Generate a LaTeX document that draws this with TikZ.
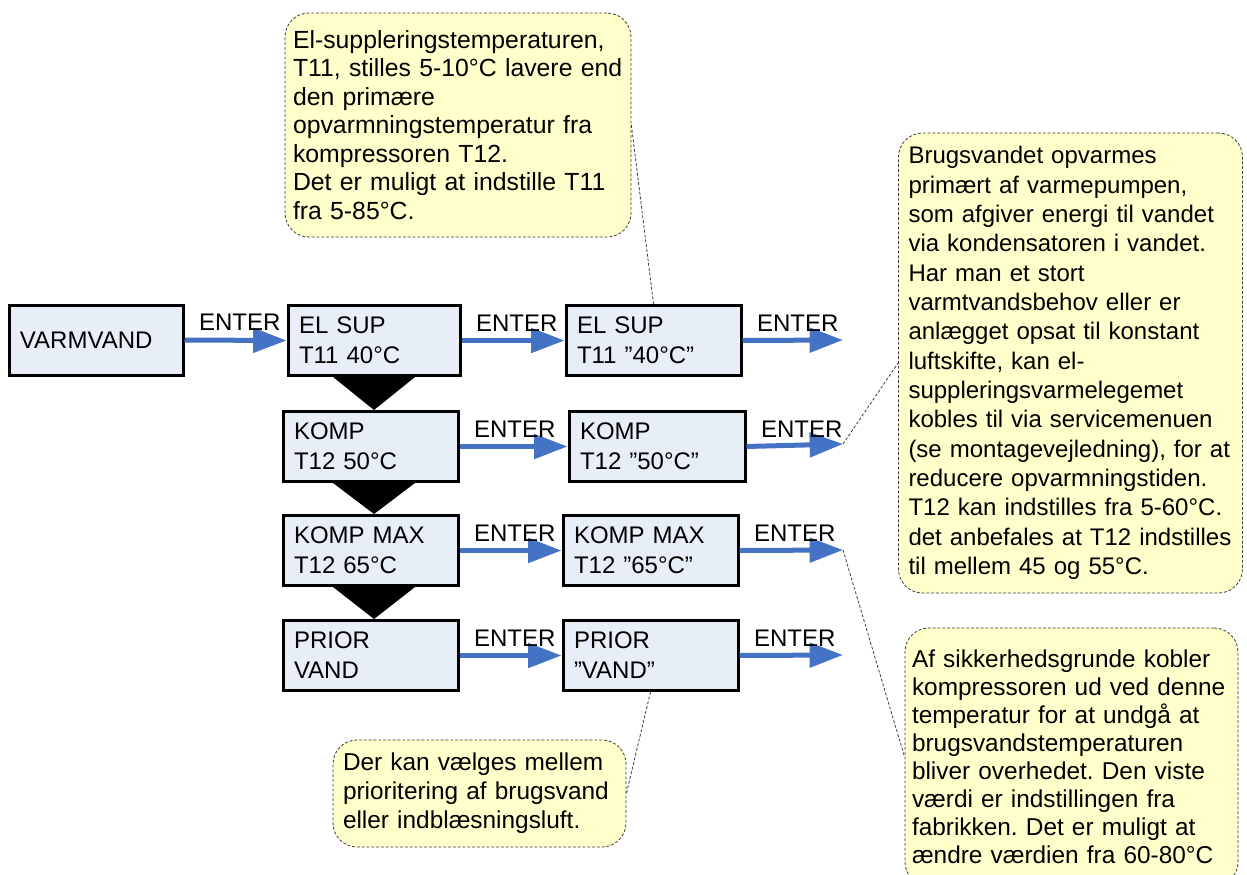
\documentclass[tikz,border=0pt]{standalone}
\usepackage{fontspec}
\setmainfont{Liberation Sans}
\usetikzlibrary{arrows.meta,calc}
\definecolor{boxfill}{RGB}{232,238,247}
\definecolor{notefill}{RGB}{255,255,204}
\definecolor{flowblue}{RGB}{68,114,196}
\definecolor{noteline}{RGB}{60,60,60}
\begin{document}
\frenchspacing
\begin{tikzpicture}[x=0.75pt,y=-0.75pt,
  menubox/.style={draw=black, line width=2.25pt, fill=boxfill,
    minimum height=52.5pt, inner xsep=8.25pt, inner ysep=0pt,
    text width=#1, align=left, font=\fontsize{18}{22.5}\selectfont},
  note/.style={draw=noteline, line width=0.6pt, dash pattern=on 2.2pt off 1.4pt,
    fill=notefill, rounded corners=18pt, inner ysep=0pt, align=left},
  flow/.style={draw=flowblue, line width=3.75pt, -{Triangle[length=25pt,width=18pt]}},
  enterlbl/.style={pos=0, anchor=base west, inner sep=0pt, xshift=9pt, yshift=7pt,
    font=\fontsize{18}{22}\selectfont, text=black},
  pointer/.style={draw=noteline, line width=0.6pt, dash pattern=on 2.2pt off 1.4pt},
  wedge/.style={fill=black}
]
\useasboundingbox (0,0) rectangle (1247,875);
\clip (0,0) rectangle (1247,875);

% menu boxes
\node[menubox=114pt] (varm) at (96,340) {VARMVAND};
\node[menubox=112.5pt] (elsup1) at (374,340.5) {EL SUP\\T11 40°C};
\node[menubox=114.75pt] (elsup2) at (653.5,340.5) {EL SUP\\T11 ”40°C”};
\node[menubox=114.75pt] (komp1) at (370.5,446.5) {KOMP\\T12 50°C};
\node[menubox=115.5pt] (komp2) at (657,446.5) {KOMP\\T12 ”50°C”};
\node[menubox=114.75pt] (kmax1) at (370.5,550.5) {KOMP MAX\\T12 65°C};
\node[menubox=114.75pt] (kmax2) at (650.5,550.5) {KOMP MAX\\T12 ”65°C”};
\node[menubox=114.75pt] (prior1) at (370.5,655.5) {PRIOR\\VAND};
\node[menubox=114.75pt] (prior2) at (650.5,655.5) {PRIOR\\”VAND”};

\coordinate (e1) at (843,340);
\coordinate (e2) at (843,444);
\coordinate (e3) at (843,550);
\coordinate (e4) at (843,655);

% arrows
\draw[flow] (varm.east) -- node[enterlbl]{ENTER} (elsup1.west);
\draw[flow] (elsup1.east) -- node[enterlbl]{ENTER} (elsup2.west);
\draw[flow] (elsup2.east) -- node[enterlbl]{ENTER} (e1);
\draw[flow] (komp1.east) -- node[enterlbl]{ENTER} (komp2.west);
\draw[flow] (komp2.east) -- node[enterlbl]{ENTER} (e2);
\draw[flow] (kmax1.east) -- node[enterlbl]{ENTER} (kmax2.west);
\draw[flow] (kmax2.east) -- node[enterlbl]{ENTER} (e3);
\draw[flow] (prior1.east) -- node[enterlbl]{ENTER} (prior2.west);
\draw[flow] (prior2.east) -- node[enterlbl]{ENTER} (e4);

% down wedges
\fill[wedge] ($(elsup1.south)+(-41,0)$) -- ($(elsup1.south)+(41,0)$) -- (elsup1.south |- komp1.north) -- cycle;
\fill[wedge] ($(elsup1.south |- komp1.south)+(-41,0)$) -- ($(elsup1.south |- komp1.south)+(41,0)$) -- (elsup1.south |- kmax1.north) -- cycle;
\fill[wedge] ($(elsup1.south |- kmax1.south)+(-41,0)$) -- ($(elsup1.south |- kmax1.south)+(41,0)$) -- (elsup1.south |- prior1.north) -- cycle;

% callouts
\node[note, font=\fontsize{18.6}{21.4}\selectfont, text width=247.5pt, inner xsep=6pt, minimum height=168pt] (c1) at (458,125)
 {El-suppleringstemperaturen,\\T11, stilles 5-10°C lavere end\\den primære\\opvarmningstemperatur fra\\kompressoren T12.\\Det er muligt at indstille T11\\fra 5-85°C.};
\node[note, font=\fontsize{18}{22}\selectfont, text width=249pt, inner xsep=4.5pt, minimum height=345pt] (c2) at (1070.5,363)
 {\hspace*{3pt}Brugsvandet opvarmes\\\hspace*{3pt}primært af varmepumpen,\\\hspace*{3pt}som afgiver energi til vandet\\\hspace*{3pt}via kondensatoren i vandet.\\\hspace*{3pt}Har man et stort\\\hspace*{3pt}varmtvandsbehov eller er\\\hspace*{3pt}anlægget opsat til konstant\\\hspace*{3pt}luftskifte, kan el-\\\hspace*{3pt}suppleringsvarmelegemet\\\hspace*{3pt}kobles til via servicemenuen\\\hspace*{3pt}(se montagevejledning), for at\\\hspace*{3pt}reducere opvarmningstiden.\\\hspace*{3pt}T12 kan indstilles fra 5-60°C.\\\hspace*{3pt}det anbefales at T12 indstilles\\\hspace*{3pt}til mellem 45 og 55°C.};
\node[note, font=\fontsize{18.3}{21}\selectfont, text width=239.25pt, inner xsep=5.25pt, minimum height=193.5pt] (c3) at (1071.5,757)
 {Af sikkerhedsgrunde kobler\\kompressoren ud ved denne\\temperatur for at undgå at\\brugsvandstemperaturen\\bliver overhedet. Den viste\\værdi er indstillingen fra\\fabrikken. Det er muligt at\\ændre værdien fra 60-80°C};
\node[note, font=\fontsize{18.3}{21.75}\selectfont, text width=204.75pt, inner xsep=7.5pt, minimum height=80.25pt] (c4) at (479.5,793.5)
 {Der kan vælges mellem\\prioritering af brugsvand\\eller indblæsningsluft.};

% callout pointers
\draw[pointer] (c1.east) -- (elsup2.north);
\draw[pointer] (e2) -- (c2.west);
\draw[pointer] (e3) -- (c3.west);
\draw[pointer] (prior2.south) -- (c4.east);
\end{tikzpicture}
\end{document}
